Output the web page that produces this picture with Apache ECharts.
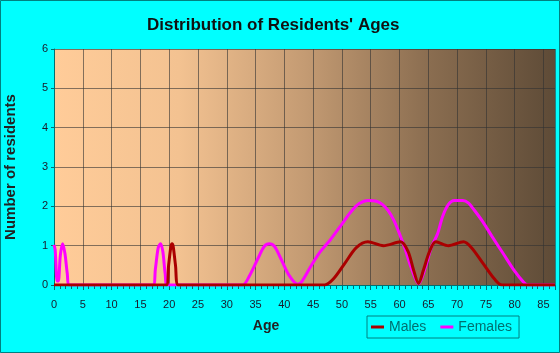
<!DOCTYPE html>
<html>
<head>
<meta charset="utf-8">
<script src="https://cdn.jsdelivr.net/npm/echarts@6/dist/echarts.min.js"></script>
<style>
  html, body { margin: 0; padding: 0; background: #00ffff; }
  #chart { width: 560px; height: 353px; }
</style>
</head>
<body>
<div id="chart"></div>
<script>
// ages and resident counts
const maleAges = [0, 19.5, 19.9, 20.3, 20.5, 20.7, 21.1, 21.6, 47, 48.5, 50.5, 52.5, 54.5, 57.2, 60.2, 61.5, 62.4, 63.3, 64.2, 65.2, 66.3, 68.5, 71.1, 72.5, 74.5, 76.5, 77.8, 87];
const maleCounts = [0, 0, 0.5, 0.98, 1.05, 0.98, 0.5, 0, 0, 0.15, 0.55, 0.95, 1.1, 1.0, 1.1, 0.85, 0.4, 0.04, 0.4, 0.85, 1.1, 1.0, 1.1, 0.95, 0.55, 0.15, 0, 0];
const femaleAges = [0, 0.2, 0.55, 0.75, 1.1, 1.5, 1.9, 2.3, 2.7, 17.2, 17.6, 18.1, 18.5, 18.9, 19.3, 19.7, 32.7, 34, 35.5, 36.5, 37.4, 38.3, 39.3, 40.8, 42.3, 43, 44.5, 46, 48, 50, 51.5, 53, 54.5, 56, 57, 58, 59, 60, 61, 62, 63.3, 64.5, 65.5, 66.6, 67.5, 68.5, 69.5, 71, 72, 73, 74.5, 76, 78, 80, 81.5, 82.3, 87];
const femaleCounts = [1.02, 0.9, 0.1, 0.1, 0.75, 1.05, 0.8, 0.3, 0, 0, 0.4, 0.95, 1.05, 0.85, 0.3, 0, 0, 0.25, 0.7, 0.98, 1.05, 0.98, 0.7, 0.25, 0.02, 0.08, 0.45, 0.8, 1.15, 1.55, 1.85, 2.07, 2.15, 2.13, 2.05, 1.9, 1.65, 1.3, 0.9, 0.45, 0.03, 0.45, 0.95, 1.3, 1.75, 2.05, 2.15, 2.15, 2.08, 1.9, 1.6, 1.25, 0.8, 0.35, 0.08, 0, 0];

const pairs = (xs, ys) => xs.map((x, i) => [x, ys[i]]);

const chart = echarts.init(document.getElementById('chart'));
chart.setOption({
  animation: false,
  backgroundColor: '#00ffff',
  textStyle: { fontFamily: 'Liberation Sans, Arial, sans-serif' },
  title: {
    text: "Distribution of Residents' Ages",
    left: 142,
    top: 12,
    textStyle: { fontSize: 17, fontWeight: 'bold', color: '#111' }
  },
  legend: {
    data: ['Males', 'Females'],
    left: 367,
    top: 316,
    padding: [4, 7, 4, 4],
    itemGap: 14,
    itemWidth: 13,
    itemHeight: 3,
    borderColor: '#008080',
    borderWidth: 1,
    icon: 'rect',
    textStyle: { fontSize: 14, color: '#007070' }
  },
  grid: {
    left: 54,
    right: 5,
    top: 49,
    bottom: 68,
    outerBoundsMode: 'none',
    containLabel: false,
    show: true,
    borderWidth: 0,
    backgroundColor: new echarts.graphic.LinearGradient(0, 0, 1, 0, [
      { offset: 0, color: '#ffcc99' },
      { offset: 0.25, color: '#f3c291' },
      { offset: 0.5, color: '#c49b73' },
      { offset: 0.75, color: '#8a6d50' },
      { offset: 1, color: '#5e4b37' }
    ])
  },
  xAxis: {
    type: 'value',
    min: 0,
    max: 87,
    interval: 5,
    name: 'Age',
    nameLocation: 'middle',
    nameGap: 34,
    nameTextStyle: { fontSize: 14, fontWeight: 'bold', color: '#222', padding: [0, 77, 0, 0] },
    axisLine: { lineStyle: { color: '#007070', width: 1 } },
    axisTick: { length: 5, lineStyle: { color: '#007070' } },
    minorTick: { show: true, splitNumber: 5, length: 4, lineStyle: { color: '#007070' } },
    axisLabel: { fontSize: 11, color: '#1a1a2a', margin: 14, showMaxLabel: false },
    splitLine: { show: true, lineStyle: { color: 'rgba(50,50,50,0.6)', width: 1 } }
  },
  yAxis: {
    type: 'value',
    min: 0,
    max: 6,
    interval: 1,
    name: 'Number of residents',
    nameLocation: 'middle',
    nameGap: 36,
    nameTextStyle: { fontSize: 15, fontWeight: 'bold', color: '#222' },
    axisLine: { show: true, lineStyle: { color: '#007070', width: 1 } },
    axisTick: { show: true, length: 3, lineStyle: { color: '#007070' } },
    axisLabel: { fontSize: 11, color: '#1a1a2a', margin: 6 },
    splitLine: { show: true, lineStyle: { color: 'rgba(50,50,50,0.6)', width: 1 } }
  },
  series: [{
    name: 'Females',
    type: 'line',
    data: pairs(femaleAges, femaleCounts),
    smooth: 0.3,
    symbol: 'none',
    color: '#ff00ff',
    lineStyle: { width: 3, color: '#ff00ff' }
  }, {
    name: 'Males',
    type: 'line',
    data: pairs(maleAges, maleCounts),
    smooth: 0.3,
    symbol: 'none',
    color: '#aa0000',
    lineStyle: { width: 3, color: '#aa0000' }
  }],
  graphic: [{
    type: 'rect',
    shape: { x: 0.5, y: 0.5, width: 559, height: 352 },
    style: { fill: 'none', stroke: '#008080', lineWidth: 1 },
    silent: true
  }]
});
</script>
</body>
</html>
